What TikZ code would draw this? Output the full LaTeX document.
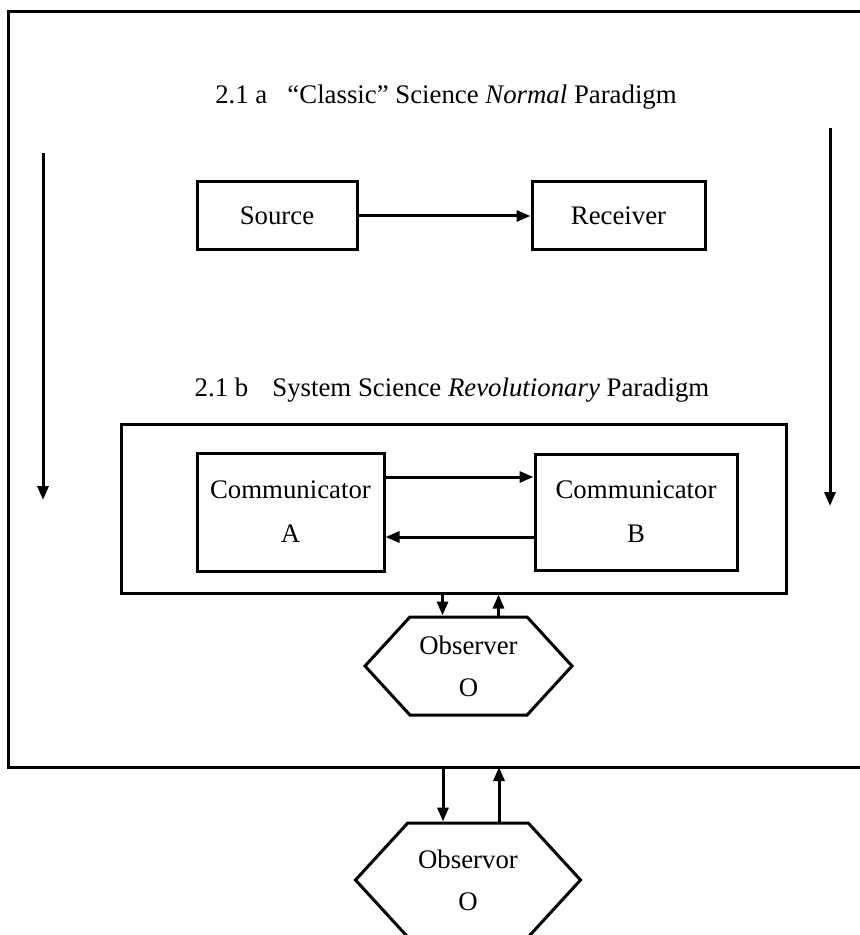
\documentclass[tikz,border=0pt]{standalone}
\usepackage{fontspec}
\setmainfont{Liberation Serif}
\usetikzlibrary{arrows.meta,positioning,shapes.symbols}

\begin{document}
\begin{tikzpicture}[
  x=0.5pt,y=-0.5pt,
  font=\fontsize{13.4}{16}\selectfont,
  boxnode/.style={rectangle,draw,line width=1.5pt,inner sep=0pt,align=center},
  hexnode/.style={signal,signal to=west and east,signal pointer angle=95,draw,line width=1.5pt,inner sep=0pt,align=center},
  line/.style={-{Triangle[length=7pt,width=5.5pt]},line width=1.5pt}
]
  \clip (0,0) rectangle (860,935);

  % outer frame, open on the right
  \draw[line width=1.5pt] (860,12) -- (8,12) -- (8,767) -- (860,767);
  \coordinate (outerbot) at (8,767);

  % 2.1 a
  \node[anchor=base] (titleA) at (446,104) {2.1 a\hspace{0.75em}“Classic” Science \textit{Normal} Paradigm};
  \node[boxnode,minimum width=80pt,minimum height=34pt] (src) at (277,216) {Source};
  \node[boxnode,minimum width=86.5pt,minimum height=34pt,right=86pt of src] (recv) {Receiver};
  \draw[line] (src) -- (recv);

  % 2.1 b
  \node[anchor=base] (titleB) at (452,396) {2.1 b\hspace{0.9em}System Science \textit{Revolutionary} Paradigm};
  \node[boxnode,minimum width=332.5pt,minimum height=84.5pt] (sysframe) at (453.5,508.5) {};
  \node[boxnode,minimum width=93.5pt,minimum height=59pt] (comA) at (290.5,512) {Communicator\\[6pt]A};
  \node[boxnode,minimum width=101pt,minimum height=58pt,right=74pt of comA] (comB) {Communicator\\[6pt]B};
  \draw[line] ([yshift=17.5pt]comA.east) -- ([yshift=17.5pt]comA.east -| comB.west);
  \draw[line] ([yshift=-12.5pt]comA.east -| comB.west) -- ([yshift=-12.5pt]comA.east);

  % observers
  \node[hexnode,minimum width=103.5pt,minimum height=49pt] (hexA) at (468.5,666) {Observer\\[5pt]O};
  \draw[line] ([xshift=-13pt]hexA.north |- sysframe.south) -- ([xshift=-13pt]hexA.north);
  \draw[line] ([xshift=15pt]hexA.north) -- ([xshift=15pt]hexA.north |- sysframe.south);

  \node[hexnode,minimum width=112.5pt,minimum height=57pt] (hexB) at (468,880) {Observor\\[5pt]O};
  \draw[line] ([xshift=-12.5pt]hexB.north |- outerbot) -- ([xshift=-12.5pt]hexB.north);
  \draw[line] ([xshift=15.5pt]hexB.north) -- ([xshift=15.5pt]hexB.north |- outerbot);

  % side arrows
  \coordinate (ltop) at (43,153);
  \coordinate (lbot) at (43,500);
  \coordinate (rtop) at (830,128);
  \coordinate (rbot) at (830,506);
  \draw[line] (ltop) -- (lbot);
  \draw[line] (rtop) -- (rbot);
\end{tikzpicture}
\end{document}
